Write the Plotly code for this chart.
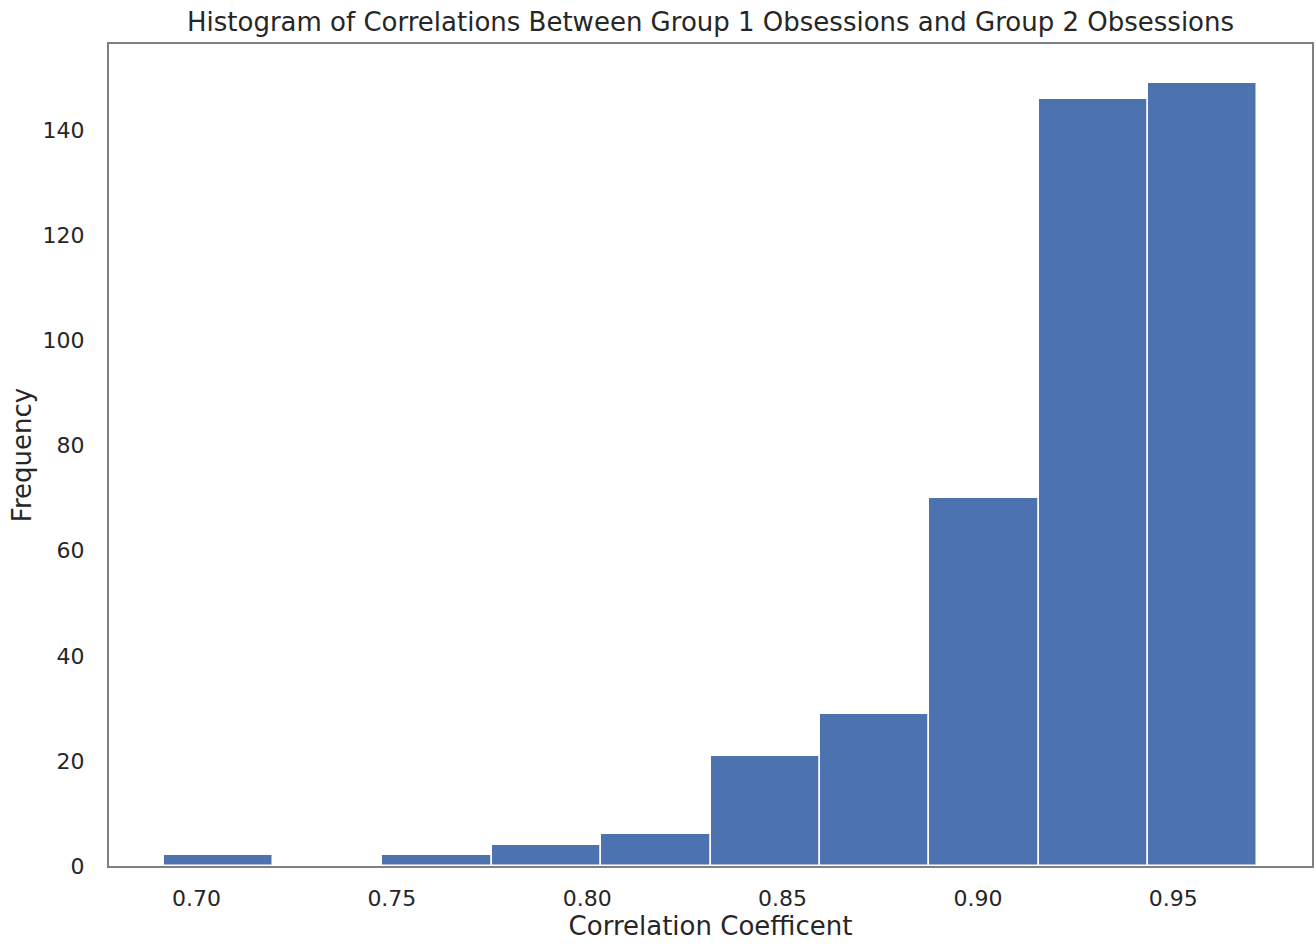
import plotly.graph_objects as go

# Histogram bin edges and counts per bin
bin_edges = [0.6916, 0.7196, 0.7476, 0.7756, 0.8036, 0.8316,
             0.8595, 0.8875, 0.9155, 0.9435, 0.9715]
counts = [2, 0, 2, 4, 6, 21, 29, 70, 146, 149]

x_ticks = [0.70, 0.75, 0.80, 0.85, 0.90, 0.95]
x_tick_labels = ["0.70", "0.75", "0.80", "0.85", "0.90", "0.95"]
y_ticks = [0, 20, 40, 60, 80, 100, 120, 140]

centers = [(a + b) / 2 for a, b in zip(bin_edges[:-1], bin_edges[1:])]
widths = [b - a for a, b in zip(bin_edges[:-1], bin_edges[1:])]

span = bin_edges[-1] - bin_edges[0]
x_range = [bin_edges[0] - 0.05 * span, bin_edges[-1] + 0.05 * span]
y_range = [0, max(counts) * 1.05]

FONT = "DejaVu Sans"
TEXT = "#262626"
FRAME = "#808080"

fig = go.Figure(
    go.Bar(
        x=centers,
        y=counts,
        width=widths,
        marker=dict(color="#4C72B0", line=dict(color="white", width=1.5)),
        hoverinfo="x+y",
    )
)

fig.update_layout(
    width=1316,
    height=944,
    margin=dict(l=109, r=2, t=44, b=78),
    paper_bgcolor="white",
    plot_bgcolor="white",
    showlegend=False,
    bargap=0,
    font=dict(family=FONT, color=TEXT, size=22),
    title=dict(
        text="Histogram of Correlations Between Group 1 Obsessions and Group 2 Obsessions",
        x=0.5,
        xref="paper",
        xanchor="center",
        y=1,
        yref="paper",
        yanchor="bottom",
        pad=dict(b=13),
        font=dict(family=FONT, size=26, color=TEXT),
    ),
)

fig.update_xaxes(
    range=x_range,
    tickvals=x_ticks,
    ticktext=x_tick_labels,
    ticks="outside",
    ticklen=12,
    tickcolor="rgba(0,0,0,0)",
    showgrid=False,
    zeroline=False,
    showline=True,
    mirror=True,
    linecolor=FRAME,
    linewidth=2,
    tickfont=dict(size=22, color=TEXT),
    title=dict(text="Correlation Coefficent", font=dict(size=26, color=TEXT), standoff=6),
)

fig.update_yaxes(
    range=y_range,
    tickvals=y_ticks,
    ticks="outside",
    ticklen=18,
    tickcolor="rgba(0,0,0,0)",
    showgrid=False,
    zeroline=False,
    showline=True,
    mirror=True,
    linecolor=FRAME,
    linewidth=2,
    tickfont=dict(size=22, color=TEXT),
    title=dict(text="Frequency", font=dict(size=26, color=TEXT), standoff=3),
)

fig.write_html("out.html")
